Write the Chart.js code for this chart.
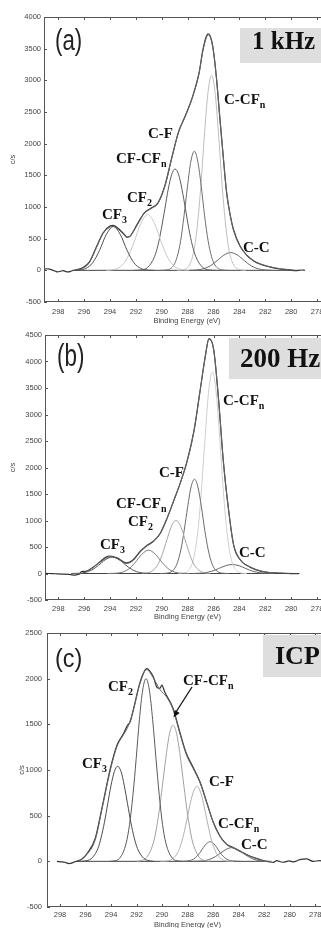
<!DOCTYPE html>
<html>
<head>
<meta charset="utf-8">
<script src="https://cdn.jsdelivr.net/npm/chart.js@4.4.1/dist/chart.umd.min.js"></script>
<style>
  html, body { margin: 0; padding: 0; background: #fff; }
  #wrap { position: relative; width: 321px; height: 928px; overflow: hidden; }
  canvas { position: absolute; left: 0; }
  .lbl { position: absolute; white-space: nowrap; line-height: 1; color: #111; }
  .pk { font-family: "Liberation Serif", "Times New Roman", serif; font-weight: bold; }
  .pk sub { font-size: 10px; vertical-align: -4px; line-height: 0; }
  .let { font-family: "Liberation Sans", Arial, sans-serif; color: #222; transform-origin: 0 0; }
  .box { position: absolute; background: #dedede; }
</style>
</head>
<body>
<div id="wrap">
  <canvas id="ca" width="330" height="325" style="top:0px"></canvas>
  <canvas id="cb" width="330" height="295" style="top:326px"></canvas>
  <canvas id="cc" width="328" height="308" style="top:621px"></canvas>
  <svg width="321" height="928" style="position:absolute;left:0;top:0">
    <line x1="192" y1="687" x2="176" y2="712" stroke="#111" stroke-width="1.3"/>
    <polygon points="173.5,717.5 179.7,713.1 174.7,709.9" fill="#111"/>
  </svg>
</div>
<script>
// --- Data (binding energy eV, counts c/s) ---
const xTicks = [298, 296, 294, 292, 290, 288, 286, 284, 282, 280, 278];
const yTicksA = [-500, 0, 500, 1000, 1500, 2000, 2500, 3000, 3500, 4000];
const yTicksB = [-500, 0, 500, 1000, 1500, 2000, 2500, 3000, 3500, 4000, 4500];
const yTicksC = [-500, 0, 500, 1000, 1500, 2000, 2500];

// (a) 1 kHz
const aCF3 = [[296.93,0],[296.4,5],[295.87,30],[295.34,119],[294.81,316],[294.28,568],[293.74,690],[293.21,568],[292.68,316],[292.15,119],[291.62,30],[291.09,5],[290.56,0]];
const aCF2 = [[294.28,0],[293.74,12],[293.21,55],[292.68,186],[292.15,440],[291.62,740],[291.09,880],[290.56,740],[290.03,440],[289.5,186],[288.97,55],[288.44,12],[287.91,0]];
const aCFCFn = [[292.15,0],[291.62,6],[291.09,46],[290.56,216],[290.29,398],[290.03,658],[289.76,971],[289.5,1282],[289.23,1514],[288.97,1600],[288.7,1514],[288.44,1282],[288.17,971],[287.91,658],[287.64,398],[287.37,216],[286.84,46],[286.31,6],[285.78,0]];
const aCF = [[290.13,0],[289.6,7],[289.07,83],[288.81,214],[288.54,468],[288.28,861],[288.01,1329],[287.75,1724],[287.48,1880],[287.22,1724],[286.95,1329],[286.69,861],[286.42,468],[286.15,214],[285.89,83],[285.36,7],[284.83,0]];
const aCCFn = [[288.81,0],[288.28,12],[287.75,136],[287.48,351],[287.22,767],[286.95,1411],[286.69,2178],[286.42,2824],[286.15,3080],[285.89,2824],[285.62,2178],[285.36,1411],[285.09,767],[284.83,351],[284.56,136],[284.03,12],[283.5,0]];
const aCC = [[287.85,0],[287.32,6],[286.79,24],[286.26,70],[285.73,151],[285.2,240],[284.67,280],[284.14,240],[283.61,151],[283.08,70],[282.55,24],[282.01,6],[281.48,0]];
const aEnv = [[296.66,0],[296.13,30],[295.6,120],[295.07,350],[294.54,580],[294.01,680],[293.74,695],[293.48,665],[292.95,570],[292.68,520],[292.42,545],[291.89,720],[291.36,900],[290.82,975],[290.29,1060],[289.76,1330],[289.23,1770],[288.7,2180],[288.17,2440],[287.64,2720],[287.11,3120],[286.84,3450],[286.58,3660],[286.42,3720],[286.26,3690],[286.05,3520],[285.78,3050],[285.52,2430],[285.25,1800],[284.99,1230],[284.72,880],[284.46,640],[283.93,370],[283.39,235],[282.86,140],[282.33,95],[281.8,65],[281.27,40],[280.74,22],[280.21,8],[279.68,0]];
const aRaw = [[299.1,15],[298.89,25],[298.68,20],[298.47,5],[298.26,-10],[298.04,-25],[297.83,-15],[297.62,-5],[297.41,-20],[297.19,-25],[296.98,-10],[296.77,0],[296.45,15],[296.13,40],[295.6,130],[295.07,360],[294.54,590],[294.01,700],[293.74,710],[293.48,680],[292.95,580],[292.68,525],[292.42,545],[291.89,730],[291.36,905],[290.82,985],[290.29,1065],[289.76,1335],[289.23,1775],[288.7,2190],[288.17,2445],[287.64,2730],[287.11,3125],[286.84,3460],[286.58,3680],[286.42,3735],[286.26,3700],[286.05,3525],[285.78,3050],[285.52,2425],[285.25,1795],[284.99,1230],[284.72,880],[284.46,645],[283.93,375],[283.39,230],[282.86,145],[282.33,95],[281.8,60],[281.27,35],[280.74,20],[280.21,10],[279.68,-5],[279.15,5],[278.94,0]];
const aBase = [[296.77,0],[279.47,0]];

// (b) 200 Hz
const bCF3 = [[297.01,0],[296.48,4],[295.95,19],[295.42,65],[294.89,155],[294.36,261],[293.83,310],[293.3,261],[292.77,155],[292.24,65],[291.71,19],[291.18,4],[290.65,0]];
const bCF2 = [[294.2,0],[293.67,3],[293.14,19],[292.61,76],[292.08,202],[291.55,362],[291.02,440],[290.49,362],[289.96,202],[289.43,76],[288.9,19],[288.37,3],[287.84,0]];
const bCFCFn = [[291.55,0],[291.02,17],[290.49,101],[290.23,203],[289.96,360],[289.7,563],[289.43,775],[289.17,938],[288.9,1000],[288.64,938],[288.37,775],[288.11,563],[287.84,360],[287.58,203],[287.31,101],[286.78,17],[286.25,0]];
const bCF = [[290.12,0],[289.59,7],[289.06,78],[288.8,203],[288.53,443],[288.27,815],[288,1258],[287.74,1632],[287.47,1780],[287.21,1632],[286.94,1258],[286.68,815],[286.41,443],[286.15,203],[285.88,78],[285.35,7],[284.82,0]];
const bCCFn = [[288.74,0],[288.21,15],[287.68,167],[287.42,433],[287.15,946],[286.89,1740],[286.62,2687],[286.36,3485],[286.09,3800],[285.83,3485],[285.56,2687],[285.3,1740],[285.03,946],[284.77,433],[284.5,167],[283.97,15],[283.44,0]];
const bCC = [[287.74,0],[287.21,4],[286.68,14],[286.15,42],[285.62,92],[285.09,146],[284.56,170],[284.02,146],[283.49,92],[282.96,42],[282.43,14],[281.9,4],[281.37,0]];
const bEnv = [[296.11,0],[295.9,30],[295.42,95],[294.73,220],[293.99,315],[293.46,285],[292.72,190],[292.19,250],[291.66,410],[291.13,520],[290.65,600],[290.12,755],[289.59,1040],[289.11,1350],[288.58,1700],[288.05,2110],[287.52,2680],[287.05,3430],[286.62,4120],[286.36,4420],[285.99,4220],[285.62,3300],[285.24,2110],[284.82,1160],[284.45,535],[283.92,250],[283.18,125],[282.38,50],[281.37,13],[279.47,0]];
const bRaw = [[299.08,5],[298.76,0],[298.23,-5],[297.7,-10],[297.17,-15],[296.86,-30],[296.54,-20],[296.33,-5],[296.22,35],[295.9,40],[295.42,100],[294.73,230],[294.31,310],[293.99,330],[293.46,295],[292.72,200],[292.19,265],[291.66,420],[291.13,535],[290.65,610],[290.12,760],[289.59,1045],[289.11,1355],[288.58,1705],[288.05,2115],[287.52,2685],[287.05,3435],[286.62,4130],[286.36,4430],[285.99,4225],[285.62,3300],[285.24,2105],[284.82,1160],[284.45,540],[283.92,255],[283.18,120],[282.38,45],[281.37,10],[280.21,0],[279.68,-5],[279.36,0]];
const bBase = [[296.22,0],[279.47,0]];

// (c) ICP
const cCF3 = [[296.33,0],[296.07,4],[295.55,30],[295.03,140],[294.78,259],[294.52,427],[294.26,631],[294,833],[293.74,984],[293.48,1040],[293.22,984],[292.97,833],[292.71,631],[292.45,427],[292.19,259],[291.93,140],[291.41,30],[290.9,4],[290.64,0]];
const cCF2 = [[294.1,0],[293.84,3],[293.33,34],[292.81,202],[292.55,406],[292.29,720],[292.03,1126],[291.78,1550],[291.52,1876],[291.26,2000],[291,1876],[290.74,1550],[290.48,1126],[290.22,720],[289.97,406],[289.71,202],[289.19,34],[288.67,3],[288.41,0]];
const cCFCFn = [[291.98,0],[291.72,6],[291.21,43],[290.69,201],[290.43,371],[290.17,612],[289.91,904],[289.65,1193],[289.4,1410],[289.14,1490],[288.88,1410],[288.62,1193],[288.36,904],[288.1,612],[287.84,371],[287.59,201],[287.07,43],[286.55,6],[286.29,0]];
const cCF = [[290.12,0],[289.86,1],[289.34,14],[288.83,83],[288.57,166],[288.31,295],[288.05,462],[287.79,636],[287.53,769],[287.28,820],[287.02,769],[286.76,636],[286.5,462],[286.24,295],[285.98,166],[285.72,83],[285.21,14],[284.69,1],[284.43,0]];
const cCCFn = [[288.57,0],[288.31,1],[287.79,9],[287.53,25],[287.28,54],[287.02,98],[286.76,152],[286.5,197],[286.24,215],[285.98,197],[285.72,152],[285.47,98],[285.21,54],[284.95,25],[284.69,9],[284.17,1],[283.91,0]];
const cCC = [[287.64,0],[287.12,2],[286.6,9],[286.09,32],[285.57,75],[285.05,126],[284.53,150],[284.02,126],[283.5,75],[282.98,32],[282.47,9],[281.95,2],[281.43,0]];
const cEnv = [[296.69,0],[296.43,11],[295.91,73],[295.24,237],[294.72,566],[294.05,1004],[293.53,1259],[293.02,1387],[292.66,1478],[292.24,1661],[291.72,1953],[291.21,2099],[290.69,2008],[290.17,1880],[289.65,1800],[289.14,1661],[288.62,1405],[288.1,1168],[287.59,1022],[287.02,858],[286.5,639],[285.98,420],[285.47,274],[284.95,183],[284.43,146],[283.91,110],[283.14,55],[282.31,18],[282,0]];
const cRaw = [[298.24,0],[297.93,-5],[297.62,-10],[297.31,-25],[297.1,-20],[296.84,-5],[296.59,5],[296.28,25],[295.91,80],[295.24,250],[294.72,580],[294.05,1020],[293.53,1275],[293.02,1400],[292.71,1490],[292.5,1530],[292.24,1670],[291.72,1965],[291.21,2110],[290.69,2020],[290.38,1900],[290.17,1895],[290.02,1930],[289.81,1860],[289.65,1815],[289.14,1675],[288.62,1420],[288.1,1180],[287.59,1035],[287.02,865],[286.5,645],[285.98,425],[285.47,278],[284.95,188],[284.43,150],[283.91,112],[283.14,58],[282.31,20],[282,5],[281.59,-5],[281.28,-11],[281.02,7],[280.55,-10],[280.03,5],[279.72,-7],[279.21,18],[278.69,26],[278.17,0],[277.65,8],[277.03,-6],[276.41,2]];
const cBase = [[296.69,0],[282,0]];

Chart.defaults.font.family = '"Liberation Sans", Arial, sans-serif';
Chart.defaults.color = "#444";

// box around plot area with inward ticks
const frame = {
  id: "frame",
  afterDatasetsDraw(chart) {
    const { ctx, chartArea: a, scales: { x, y } } = chart;
    ctx.save();
    ctx.strokeStyle = "#555";
    ctx.lineWidth = 1;
    ctx.strokeRect(a.left + 0.5, a.top + 0.5, a.right - a.left - 1, a.bottom - a.top - 1);
    ctx.beginPath();
    x.ticks.forEach((t) => {
      const px = Math.round(x.getPixelForValue(t.value)) + 0.5;
      ctx.moveTo(px, a.bottom); ctx.lineTo(px, a.bottom - 3);
      ctx.moveTo(px, a.top); ctx.lineTo(px, a.top + 3);
    });
    y.ticks.forEach((t) => {
      const py = Math.round(y.getPixelForValue(t.value)) + 0.5;
      ctx.moveTo(a.left, py); ctx.lineTo(a.left + 3, py);
    });
    ctx.stroke();
    ctx.restore();
  },
};

function panel(id, sets, yTicks, xMax, d) {
  new Chart(document.getElementById(id), {
    type: "line",
    data: {
      datasets: sets.map((s) => ({
        data: s[0].map((p) => ({ x: p[0], y: p[1] })),
        borderColor: s[1],
        borderWidth: s[2] || 1,
      })),
    },
    options: {
      responsive: false,
      animation: false,
      events: [],
      devicePixelRatio: 1,
      layout: { padding: { top: d.top, right: 0, left: 0, bottom: 0 } },
      elements: {
        point: { radius: 0 },
        line: { cubicInterpolationMode: "monotone", fill: false },
      },
      scales: {
        x: {
          type: "linear",
          reverse: true,
          min: 277,
          max: xMax,
          grid: { display: false, drawTicks: false },
          border: { display: false },
          afterBuildTicks: (s) => { s.ticks = xTicks.map((v) => ({ value: v })); },
          afterFit: (s) => { s.height = d.xh; },
          ticks: { font: { size: 7.5 }, padding: d.xpad, maxRotation: 0, autoSkip: false, callback: (v) => String(v) },
          title: { display: true, text: "Binding Energy (eV)", font: { size: 7.5 }, padding: 0 },
        },
        y: {
          min: yTicks[0],
          max: yTicks[yTicks.length - 1],
          grid: { display: false, drawTicks: false },
          border: { display: false },
          afterBuildTicks: (s) => { s.ticks = yTicks.map((v) => ({ value: v })); },
          afterFit: (s) => { s.width = d.left; },
          ticks: { font: { size: 7.5 }, padding: d.ypad, callback: (v) => String(v) },
          title: { display: true, text: "c/s", font: { size: 7.5 }, padding: { top: d.tpad, bottom: 0 } },
        },
      },
      plugins: { legend: { display: false }, tooltip: { enabled: false } },
    },
    plugins: [frame],
  });
}

panel("ca", [
  [aCF3, "#505050"], [aCF2, "#c8c8c8"], [aCFCFn, "#5a5a5a"], [aCF, "#6e6e6e"],
  [aCCFn, "#bdbdbd"], [aCC, "#666"], [aBase, "#444"], [aEnv, "#666"], [aRaw, "#333", 1.2],
], yTicksA, 299.1, { top: 17, left: 44, xh: 23, xpad: 5.5, ypad: 3, tpad: 8 });

panel("cb", [
  [bCF3, "#555"], [bCF2, "#777"], [bCFCFn, "#a5a5a5"], [bCF, "#6a6a6a"],
  [bCCFn, "#cfcfcf"], [bCC, "#666"], [bBase, "#444"], [bEnv, "#666"], [bRaw, "#333", 1.2],
], yTicksB, 299.03, { top: 9, left: 45, xh: 21, xpad: 4.5, ypad: 3, tpad: 8 });

panel("cc", [
  [cCF3, "#4a4a4a"], [cCF2, "#5a5a5a"], [cCFCFn, "#a0a0a0"], [cCF, "#b0b0b0"],
  [cCCFn, "#666"], [cCC, "#666"], [cBase, "#444"], [cEnv, "#666"], [cRaw, "#333", 1.2],
], yTicksC, 299.02, { top: 12, left: 47, xh: 22, xpad: 3.5, ypad: 5, tpad: 17 });

// --- Annotations ---
const wrap = document.getElementById("wrap");
function box(x, y, w, h) {
  const el = document.createElement("div");
  el.className = "box";
  el.style.cssText = `left:${x}px;top:${y}px;width:${w}px;height:${h}px`;
  wrap.appendChild(el);
}
function lab(html, x, base, size, cls, sx) {
  const el = document.createElement("div");
  el.className = "lbl " + cls;
  el.innerHTML = html;
  const k = cls === "let" ? 0.8465 : 0.8375;
  el.style.cssText = `left:${x}px;top:${base - k * size}px;font-size:${size}px` + (sx ? `;transform:scaleX(${sx})` : "");
  wrap.appendChild(el);
}

box(240, 28, 90, 35);
box(229, 338, 100, 41);
box(263, 635, 70, 42);

lab("(a)", 55, 50, 30, "let", 0.74);
lab("1 kHz", 252, 49, 25, "pk");
lab("CF<sub>3</sub>", 102, 220, 15, "pk");
lab("CF<sub>2</sub>", 127, 203, 15, "pk");
lab("CF-CF<sub>n</sub>", 116, 164, 15, "pk");
lab("C-F", 148, 139, 15, "pk");
lab("C-CF<sub>n</sub>", 224, 105, 15, "pk");
lab("C-C", 243, 253, 15, "pk");

lab("(b)", 57, 366, 32, "let", 0.7);
lab("200 Hz", 240, 368, 27, "pk");
lab("CF<sub>3</sub>", 100, 550, 15, "pk");
lab("CF<sub>2</sub>", 128, 527, 15, "pk");
lab("CF-CF<sub>n</sub>", 116, 509, 15, "pk");
lab("C-F", 159, 478, 15, "pk");
lab("C-CF<sub>n</sub>", 223, 406, 15, "pk");
lab("C-C", 239, 558, 15, "pk");

lab("(c)", 55, 667, 26, "let", 0.9);
lab("ICP", 275, 665, 26, "pk");
lab("CF<sub>2</sub>", 108, 692, 15, "pk");
lab("CF-CF<sub>n</sub>", 183, 686, 15, "pk");
lab("CF<sub>3</sub>", 82, 769, 15, "pk");
lab("C-F", 209, 787, 15, "pk");
lab("C-CF<sub>n</sub>", 218, 829, 15, "pk");
lab("C-C", 241, 850, 15, "pk");
</script>
</body>
</html>
